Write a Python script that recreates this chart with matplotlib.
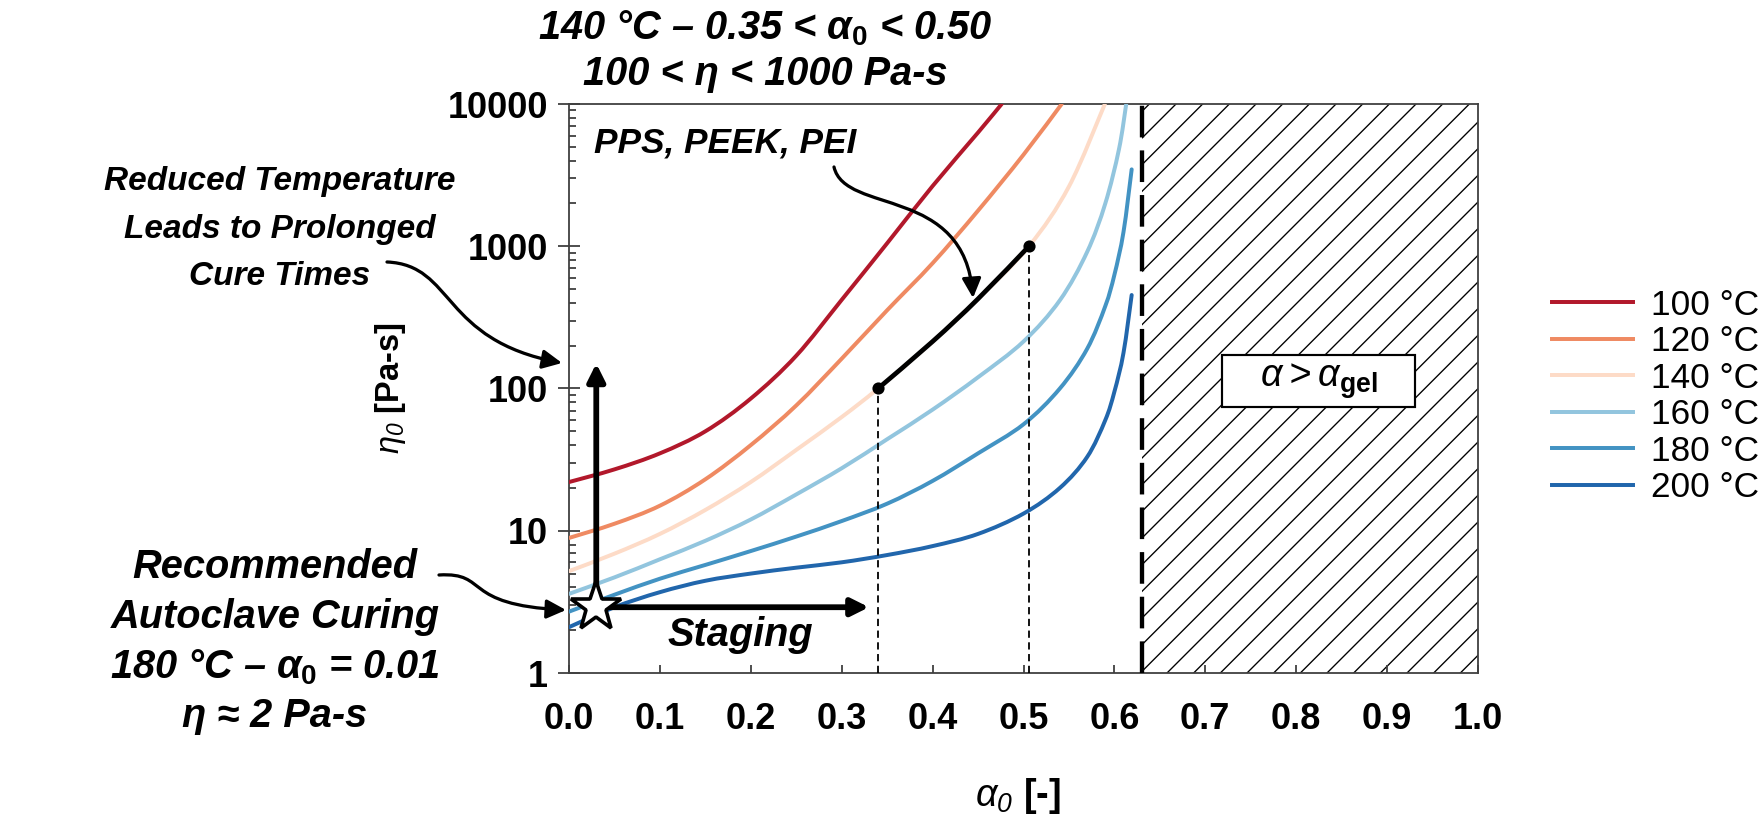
import numpy as np
import matplotlib
matplotlib.use("Agg")
import matplotlib.pyplot as plt
from matplotlib.path import Path
from matplotlib.patches import FancyArrowPatch, Rectangle, PathPatch
from matplotlib.lines import Line2D
from matplotlib import ticker, font_manager

plt.rcParams['font.family'] = ['Liberation Sans', 'DejaVu Sans']
plt.rcParams['mathtext.fontset'] = 'custom'
plt.rcParams['mathtext.rm'] = 'Liberation Sans:bold'
plt.rcParams['mathtext.it'] = 'Liberation Sans:italic:bold'
plt.rcParams['mathtext.sf'] = 'Liberation Sans:italic'
plt.rcParams['mathtext.bf'] = 'Liberation Sans:bold'
plt.rcParams['hatch.color'] = 'black'

# ---- data ----
labels = ['100 °C', '120 °C', '140 °C', '160 °C', '180 °C', '200 °C']
colors = ['#b2182b', '#ef8a62', '#fddbc7', '#92c5de', '#4393c3', '#2166ac']

alpha_100 = [0.00, 0.05, 0.10, 0.15, 0.20, 0.25, 0.30, 0.35, 0.40, 0.45, 0.476]
eta_100 = [22, 27, 35, 50, 85, 170, 420, 1050, 2650, 6300, 10000]

alpha_120 = [0.00, 0.05, 0.10, 0.15, 0.20, 0.25, 0.30, 0.35, 0.40, 0.45, 0.50, 0.542]
eta_120 = [8.9, 11.2, 15, 23, 40, 76, 162, 355, 760, 1780, 4400, 10000]

alpha_140 = [0.00, 0.05, 0.10, 0.15, 0.20, 0.25, 0.30, 0.34, 0.40, 0.45, 0.506, 0.55, 0.5895]
eta_140 = [5.2, 6.9, 9.5, 14, 22, 37, 63, 100, 214, 427, 1000, 2630, 10000]

alpha_160 = [0.00, 0.05, 0.10, 0.15, 0.20, 0.25, 0.30, 0.35, 0.40, 0.45, 0.50, 0.54, 0.57, 0.59, 0.605, 0.613]
eta_160 = [3.6, 4.7, 6.3, 8.5, 12, 18, 27.5, 44, 71, 120, 214, 417, 912, 2000, 4800, 10000]

alpha_180 = [0.00, 0.05, 0.10, 0.15, 0.20, 0.25, 0.30, 0.35, 0.40, 0.45, 0.50, 0.54, 0.57, 0.59, 0.60, 0.61, 0.619]
eta_180 = [2.7, 3.55, 4.6, 5.75, 7.2, 9.1, 11.7, 15.5, 22.4, 35, 56, 100, 190, 380, 630, 1260, 3470]

alpha_200 = [0.00, 0.05, 0.10, 0.15, 0.20, 0.25, 0.30, 0.35, 0.40, 0.45, 0.50, 0.54, 0.57, 0.59, 0.60, 0.61, 0.619]
eta_200 = [2.1, 2.9, 3.7, 4.45, 5.0, 5.5, 6.0, 6.75, 7.8, 9.5, 13.2, 20, 33, 60, 95, 178, 454]

# PPS / PEEK / PEI window on the 140 C curve
pps_alpha = [0.34, 0.40, 0.45, 0.506]
pps_eta = [100, 214, 427, 1000]

alpha_gel = 0.63
star_alpha, star_eta = 0.03, 2.9
staging_end = 0.33
up_arrow_end = 150

xticks = [0.0, 0.1, 0.2, 0.3, 0.4, 0.5, 0.6, 0.7, 0.8, 0.9, 1.0]
yticks = [1, 10, 100, 1000, 10000]
ytick_labels = ['1', '10', '100', '1000', '10000']

# ---- figure ----
W, H = 1763, 818
DPI = 160
K = 130 / DPI   # sizes below were tuned in points at 130 dpi


def k(v):
    return v * K


plt.rcParams['hatch.linewidth'] = k(0.75)

fig = plt.figure(figsize=(11.0188, 5.1126), dpi=DPI)
ax = fig.add_axes([569 / W, 1 - 673 / H, 909 / W, 569 / H])


def fpos(x, y):
    # pixel position in the picture -> figure fraction
    return x / W, 1 - y / H


def smooth_path(x, y):
    # smoothed line like a spreadsheet "smooth line", built in (x, log y) space
    p = np.column_stack([np.asarray(x, float), np.log10(y)])
    n = len(p)
    verts, codes = [p[0]], [Path.MOVETO]
    for i in range(n - 1):
        p0 = p[i - 1] if i > 0 else p[i]
        p3 = p[i + 2] if i + 2 < n else p[i + 1]
        verts += [p[i] + (p[i + 1] - p0) / 6, p[i + 1] - (p3 - p[i]) / 6, p[i + 1]]
        codes += [Path.CURVE4] * 3
    verts = np.array(verts)
    verts[:, 1] = 10 ** verts[:, 1]
    return Path(verts, codes)


ax.set_yscale('log')
ax.set_xlim(0, 1)
ax.set_ylim(1, 10000)

curves = [(alpha_100, eta_100), (alpha_120, eta_120), (alpha_140, eta_140),
          (alpha_160, eta_160), (alpha_180, eta_180), (alpha_200, eta_200)]
handles = []
for (a, e), c, lab in zip(curves, colors, labels):
    ax.add_patch(PathPatch(smooth_path(a, e), fill=False, edgecolor=c, lw=k(2.2),
                           capstyle='round', zorder=3))
    handles.append(Line2D([], [], color=c, lw=k(2.2), label=lab))

# gelled region
ax.axvspan(alpha_gel, 1.0, facecolor='white', edgecolor='black', hatch='//', lw=0, zorder=1)
ax.axvline(alpha_gel, color='black', lw=k(2.4), ls=(0, (7.3, 3)), zorder=4)
ax.add_patch(Rectangle((0.718, 74), 0.213, 98, facecolor='white', edgecolor='black',
                       lw=k(1.2), zorder=5))
ax.text(0.8245, 113, r'$\mathsf{\alpha > \alpha}_{\mathbf{gel}}$', ha='center', va='center',
        fontsize=k(21), zorder=6)

# PPS / PEEK / PEI segment
ax.vlines([pps_alpha[0], pps_alpha[-1]], 1, [pps_eta[0], pps_eta[-1]], colors='black',
          lw=k(1.0), linestyles=(0, (4, 2.5)), zorder=4)
ax.add_patch(PathPatch(smooth_path(pps_alpha, pps_eta), fill=False, edgecolor='black',
                       lw=k(2.6), capstyle='round', zorder=6))
ax.plot([pps_alpha[0], pps_alpha[-1]], [pps_eta[0], pps_eta[-1]], 'o', color='black',
        ms=k(5.5), zorder=7)

# staging arrows and the star
akw = dict(arrowstyle='-|>,head_length=0.4,head_width=0.2', color='black', lw=k(3.2),
           shrinkA=0, shrinkB=0, mutation_scale=k(20))
ax.annotate('', xy=(star_alpha, up_arrow_end), xytext=(star_alpha, star_eta),
            arrowprops=akw, zorder=8)
ax.annotate('', xy=(staging_end, star_eta), xytext=(star_alpha, star_eta),
            arrowprops=akw, zorder=8)
ax.plot(star_alpha, star_eta, marker='*', ms=k(29), mfc='white', mec='black', mew=k(2.0),
        zorder=9, clip_on=False)

# ticks and spines
ax.set_xticks(xticks)
ax.xaxis.set_major_formatter(ticker.FormatStrFormatter('%.1f'))
ax.set_yticks(yticks)
ax.set_yticklabels(ytick_labels)
ax.yaxis.set_minor_locator(ticker.LogLocator(base=10, subs=np.arange(2, 10)))
ax.yaxis.set_minor_formatter(ticker.NullFormatter())
ax.tick_params(axis='x', which='major', direction='in', length=k(4.4), width=k(1),
               pad=k(16), labelsize=k(20), color='#404040')
ax.tick_params(axis='y', which='major', direction='inout', length=k(12), width=k(1),
               pad=k(5.5), labelsize=k(20), color='#404040')
ax.tick_params(axis='y', which='minor', direction='in', length=k(3.9), width=k(1),
               color='#404040')
for lab in ax.get_xticklabels() + ax.get_yticklabels():
    lab.set_fontweight('bold')
for s in ax.spines.values():
    s.set_color('#404040')
    s.set_linewidth(k(1.0))

# axis labels
fig.text(*fpos(390, 388), r'$\mathsf{\eta_0}$ [Pa-s]', rotation=90, ha='center', va='center',
         fontsize=k(18), fontweight='bold')
fig.text(*fpos(1018, 796), r'$\mathsf{\alpha_0}$ [-]', ha='center', va='center',
         fontsize=k(21), fontweight='bold')

# annotations
tkw = dict(fontsize=k(22), fontweight='bold', fontstyle='italic', ha='center', va='baseline')
fig.text(*fpos(765, 39), r'140 °C – 0.35 < $\alpha_\mathit{0}$ < 0.50', **tkw)
fig.text(*fpos(765, 85), '100 < η < 1000 Pa-s', **tkw)

# the upper-left note is set in a narrower face in the original
names = {f.name for f in font_manager.fontManager.ttflist}
if 'Liberation Sans Narrow' in names:
    nkw = dict(tkw, family=['Liberation Sans Narrow', 'DejaVu Sans'], fontsize=k(22))
else:
    nkw = dict(tkw, fontsize=k(18.5))
for txt, y in zip(['Reduced Temperature', 'Leads to Prolonged', 'Cure Times'], [190, 238, 285]):
    fig.text(*fpos(280, y), txt, **nkw)
for txt, y in zip(['Recommended', 'Autoclave Curing', r'180 °C – $\alpha_\mathit{0}$ = 0.01',
                   'η ≈ 2 Pa-s'], [578, 628, 678, 727]):
    fig.text(*fpos(275, y), txt, **tkw)
fig.text(*fpos(740, 646), 'Staging', **tkw)
fig.text(*fpos(594, 152), 'PPS, PEEK, PEI', fontsize=k(19.5), fontweight='bold',
         fontstyle='italic', ha='left', va='baseline')


def curved_arrow(pts):
    verts = [fpos(x, y) for x, y in pts]
    p = Path(verts, [Path.MOVETO, Path.CURVE4, Path.CURVE4, Path.CURVE4])
    arr = FancyArrowPatch(path=p, transform=fig.transFigure,
                          arrowstyle='-|>,head_length=0.45,head_width=0.22',
                          mutation_scale=k(20), color='black', lw=k(1.8))
    fig.add_artist(arr)


curved_arrow([(387, 262), (455, 265), (440, 340), (562, 363)])
curved_arrow([(439, 575), (490, 572), (460, 605), (566, 610)])
curved_arrow([(834, 167), (845, 215), (965, 185), (973, 298)])

fig.legend(handles=handles, loc='center left', bbox_to_anchor=(1552 / W, 1 - 396.5 / H),
           frameon=False, fontsize=k(19.5), handlelength=2.3, handletextpad=0.5,
           labelspacing=0.1, borderpad=0, borderaxespad=0)

fig.savefig('out.png', dpi=DPI)
